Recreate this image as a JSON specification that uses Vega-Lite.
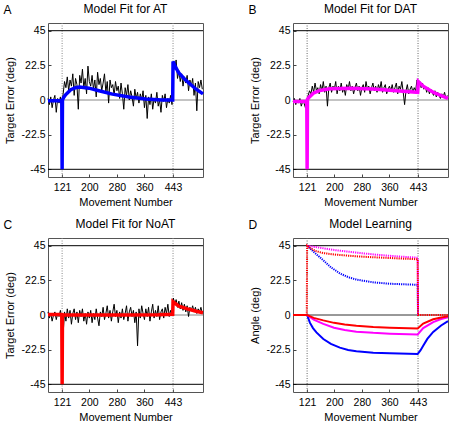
{
"$schema":"https://vega.github.io/schema/vega-lite/v6.json",
"padding":{"left":3,"top":2,"right":0,"bottom":0},
"config":{"view":{"stroke":"#555","strokeWidth":1},"font":"Liberation Sans",
 "axis":{"grid":false,"labelColor":"#000","titleColor":"#000","labelFont":"Liberation Sans","titleFont":"Liberation Sans","labelFontSize":10.5,"titleFontSize":11,"titleFontWeight":"normal","tickColor":"#444","domain":false,"labelOverlap":false,"labelFlush":false},
 "title":{"font":"Liberation Sans","fontSize":12,"fontWeight":"normal","color":"#000"}},
"datasets":{
"a_data":[{"m":80,"v":1},{"m":84,"v":-3},{"m":88,"v":2},{"m":92,"v":-5},{"m":96,"v":0},{"m":100,"v":3},{"m":104,"v":-8},{"m":108,"v":1},{"m":112,"v":-2},{"m":116,"v":2},{"m":120,"v":-4},{"m":124,"v":4},{"m":128,"v":12},{"m":132,"v":8},{"m":136,"v":15},{"m":140,"v":6},{"m":144,"v":13},{"m":148,"v":9},{"m":152,"v":17},{"m":156,"v":3},{"m":160,"v":14},{"m":164,"v":10},{"m":168,"v":-6},{"m":172,"v":16},{"m":176,"v":11},{"m":180,"v":20},{"m":184,"v":8},{"m":188,"v":14},{"m":192,"v":4},{"m":196,"v":22},{"m":200,"v":12},{"m":204,"v":9},{"m":208,"v":16},{"m":212,"v":7},{"m":216,"v":13},{"m":220,"v":2},{"m":224,"v":18},{"m":228,"v":10},{"m":232,"v":14},{"m":236,"v":6},{"m":240,"v":11},{"m":244,"v":17},{"m":248,"v":5},{"m":252,"v":12},{"m":256,"v":-2},{"m":260,"v":13},{"m":264,"v":8},{"m":268,"v":10},{"m":272,"v":3},{"m":276,"v":12},{"m":280,"v":6},{"m":284,"v":9},{"m":288,"v":1},{"m":292,"v":11},{"m":296,"v":4},{"m":300,"v":-6},{"m":304,"v":8},{"m":308,"v":3},{"m":312,"v":10},{"m":316,"v":0},{"m":320,"v":6},{"m":324,"v":2},{"m":328,"v":-4},{"m":332,"v":7},{"m":336,"v":1},{"m":340,"v":5},{"m":344,"v":-2},{"m":348,"v":4},{"m":352,"v":0},{"m":356,"v":6},{"m":360,"v":-5},{"m":364,"v":3},{"m":368,"v":-12},{"m":372,"v":2},{"m":376,"v":-3},{"m":380,"v":4},{"m":384,"v":-6},{"m":388,"v":1},{"m":392,"v":-2},{"m":396,"v":5},{"m":400,"v":-4},{"m":404,"v":0},{"m":408,"v":-8},{"m":412,"v":3},{"m":416,"v":-1},{"m":420,"v":4},{"m":424,"v":-5},{"m":428,"v":1},{"m":432,"v":-2},{"m":436,"v":3},{"m":440,"v":-3},{"m":444,"v":24},{"m":448,"v":20},{"m":452,"v":26},{"m":456,"v":14},{"m":460,"v":19},{"m":464,"v":12},{"m":468,"v":17},{"m":472,"v":9},{"m":476,"v":15},{"m":480,"v":11},{"m":484,"v":16},{"m":488,"v":6},{"m":492,"v":13},{"m":496,"v":9},{"m":500,"v":14},{"m":504,"v":3},{"m":508,"v":11},{"m":512,"v":-7},{"m":516,"v":12},{"m":520,"v":8},{"m":524,"v":13},{"m":528,"v":7}],
"a_model":[{"m":80,"v":-0.5},{"m":120,"v":-0.5},{"m":121,"v":-45},{"m":122,"v":0},{"m":125,"v":1.5},{"m":131,"v":3.4},{"m":146,"v":6.7},{"m":160,"v":8},{"m":172,"v":8.5},{"m":199,"v":7.7},{"m":228,"v":6},{"m":267,"v":3.8},{"m":315,"v":1.9},{"m":363,"v":0.6},{"m":411,"v":0},{"m":442,"v":0},{"m":443,"v":25},{"m":450,"v":21.5},{"m":460,"v":17.5},{"m":475,"v":14},{"m":489,"v":11},{"m":510,"v":7},{"m":530,"v":4}],
"b_data":[{"m":80,"v":-1},{"m":84,"v":1},{"m":88,"v":-3},{"m":92,"v":0},{"m":96,"v":-2},{"m":100,"v":1},{"m":104,"v":-4},{"m":108,"v":-1},{"m":112,"v":-2},{"m":116,"v":-5},{"m":120,"v":0},{"m":124,"v":3},{"m":128,"v":6},{"m":132,"v":4},{"m":136,"v":9},{"m":140,"v":5},{"m":144,"v":11},{"m":148,"v":6},{"m":152,"v":8},{"m":156,"v":4},{"m":160,"v":10},{"m":164,"v":6},{"m":168,"v":12},{"m":172,"v":5},{"m":176,"v":9},{"m":180,"v":-4},{"m":184,"v":8},{"m":188,"v":11},{"m":192,"v":5},{"m":196,"v":9},{"m":200,"v":7},{"m":204,"v":12},{"m":208,"v":4},{"m":212,"v":9},{"m":216,"v":6},{"m":220,"v":11},{"m":224,"v":5},{"m":228,"v":8},{"m":232,"v":3},{"m":236,"v":10},{"m":240,"v":7},{"m":244,"v":12},{"m":248,"v":6},{"m":252,"v":9},{"m":256,"v":4},{"m":260,"v":8},{"m":264,"v":11},{"m":268,"v":6},{"m":272,"v":9},{"m":276,"v":3},{"m":280,"v":8},{"m":284,"v":10},{"m":288,"v":5},{"m":292,"v":12},{"m":296,"v":7},{"m":300,"v":9},{"m":304,"v":4},{"m":308,"v":8},{"m":312,"v":11},{"m":316,"v":6},{"m":320,"v":9},{"m":324,"v":5},{"m":328,"v":10},{"m":332,"v":7},{"m":336,"v":12},{"m":340,"v":5},{"m":344,"v":8},{"m":348,"v":10},{"m":352,"v":4},{"m":356,"v":7},{"m":360,"v":9},{"m":364,"v":6},{"m":368,"v":10},{"m":372,"v":5},{"m":376,"v":8},{"m":380,"v":11},{"m":384,"v":4},{"m":388,"v":9},{"m":392,"v":7},{"m":396,"v":12},{"m":400,"v":5},{"m":404,"v":-3},{"m":408,"v":6},{"m":412,"v":10},{"m":416,"v":4},{"m":420,"v":7},{"m":424,"v":9},{"m":428,"v":5},{"m":432,"v":8},{"m":436,"v":6},{"m":440,"v":13},{"m":444,"v":10},{"m":448,"v":12},{"m":452,"v":8},{"m":456,"v":11},{"m":460,"v":7},{"m":464,"v":9},{"m":468,"v":5},{"m":472,"v":8},{"m":476,"v":4},{"m":480,"v":7},{"m":484,"v":5},{"m":488,"v":3},{"m":492,"v":6},{"m":496,"v":2},{"m":500,"v":5},{"m":504,"v":3},{"m":508,"v":1},{"m":512,"v":4},{"m":516,"v":2},{"m":520,"v":5},{"m":524,"v":1},{"m":528,"v":3}],
"b_model":[{"m":80,"v":-1},{"m":120,"v":-1},{"m":121,"v":-45},{"m":122,"v":0.5},{"m":124,"v":1.2},{"m":139,"v":4.4},{"m":158,"v":6.2},{"m":187,"v":7.3},{"m":245,"v":7.7},{"m":313,"v":7.1},{"m":380,"v":6},{"m":442,"v":5},{"m":444,"v":12},{"m":458,"v":9},{"m":487,"v":5},{"m":510,"v":2.8},{"m":530,"v":1}],
"c_data":[{"m":80,"v":2},{"m":84,"v":-2},{"m":88,"v":1},{"m":92,"v":-4},{"m":96,"v":0},{"m":100,"v":2},{"m":104,"v":-3},{"m":108,"v":1},{"m":112,"v":-1},{"m":116,"v":3},{"m":120,"v":-2},{"m":124,"v":-12},{"m":128,"v":2},{"m":132,"v":-4},{"m":136,"v":4},{"m":140,"v":-2},{"m":144,"v":3},{"m":148,"v":-6},{"m":152,"v":1},{"m":156,"v":4},{"m":160,"v":-3},{"m":164,"v":2},{"m":168,"v":-5},{"m":172,"v":3},{"m":176,"v":-1},{"m":180,"v":4},{"m":184,"v":-4},{"m":188,"v":1},{"m":192,"v":-6},{"m":196,"v":2},{"m":200,"v":-2},{"m":204,"v":3},{"m":208,"v":-5},{"m":212,"v":1},{"m":216,"v":-3},{"m":220,"v":4},{"m":224,"v":-2},{"m":228,"v":-7},{"m":232,"v":2},{"m":236,"v":-1},{"m":240,"v":5},{"m":244,"v":-3},{"m":248,"v":1},{"m":252,"v":6},{"m":256,"v":-2},{"m":260,"v":3},{"m":264,"v":-4},{"m":268,"v":2},{"m":272,"v":7},{"m":276,"v":-1},{"m":280,"v":3},{"m":284,"v":-5},{"m":288,"v":2},{"m":292,"v":-2},{"m":296,"v":4},{"m":300,"v":-3},{"m":304,"v":1},{"m":308,"v":6},{"m":312,"v":-4},{"m":316,"v":2},{"m":320,"v":5},{"m":324,"v":-1},{"m":328,"v":3},{"m":332,"v":-5},{"m":336,"v":2},{"m":340,"v":-20},{"m":344,"v":4},{"m":348,"v":-2},{"m":352,"v":6},{"m":356,"v":1},{"m":360,"v":-3},{"m":364,"v":4},{"m":368,"v":-1},{"m":372,"v":5},{"m":376,"v":-4},{"m":380,"v":2},{"m":384,"v":7},{"m":388,"v":-2},{"m":392,"v":3},{"m":396,"v":-1},{"m":400,"v":6},{"m":404,"v":-3},{"m":408,"v":2},{"m":412,"v":4},{"m":416,"v":-2},{"m":420,"v":5},{"m":424,"v":1},{"m":428,"v":7},{"m":432,"v":-1},{"m":436,"v":3},{"m":440,"v":0},{"m":444,"v":11},{"m":448,"v":7},{"m":452,"v":10},{"m":456,"v":5},{"m":460,"v":9},{"m":464,"v":4},{"m":468,"v":8},{"m":472,"v":3},{"m":476,"v":7},{"m":480,"v":2},{"m":484,"v":6},{"m":488,"v":-1},{"m":492,"v":5},{"m":496,"v":3},{"m":500,"v":6},{"m":504,"v":2},{"m":508,"v":5},{"m":512,"v":1},{"m":516,"v":4},{"m":520,"v":2},{"m":524,"v":5},{"m":528,"v":1}],
"c_model":[{"m":80,"v":0.3},{"m":120,"v":0.3},{"m":121,"v":-45},{"m":122,"v":0},{"m":200,"v":0},{"m":300,"v":0},{"m":400,"v":0.2},{"m":442,"v":0.5},{"m":443,"v":8.6},{"m":460,"v":5.8},{"m":489,"v":3.7},{"m":510,"v":2.4},{"m":530,"v":1.5}],
"d_bu":[{"m":121,"v":45},{"m":140,"v":41},{"m":168,"v":35.5},{"m":190,"v":31},{"m":216,"v":27},{"m":240,"v":24.6},{"m":264,"v":23},{"m":313,"v":21.2},{"m":361,"v":20.3},{"m":442,"v":19.6},{"m":443,"v":0}],
"d_mu":[{"m":121,"v":45},{"m":160,"v":43.6},{"m":200,"v":42.2},{"m":260,"v":40.6},{"m":320,"v":39.2},{"m":380,"v":38.1},{"m":442,"v":37.2},{"m":443,"v":0}],
"d_ru":[{"m":120,"v":0},{"m":121,"v":45},{"m":130,"v":43.4},{"m":145,"v":41.6},{"m":168,"v":40.2},{"m":199,"v":39.3},{"m":264,"v":38.1},{"m":313,"v":37.5},{"m":361,"v":37},{"m":400,"v":36.6},{"m":442,"v":36.2},{"m":443,"v":0},{"m":530,"v":0}],
"d_bl":[{"m":80,"v":0},{"m":121,"v":0},{"m":129,"v":-5},{"m":138,"v":-8.5},{"m":148,"v":-11.3},{"m":168,"v":-15.6},{"m":190,"v":-18.8},{"m":216,"v":-21.2},{"m":240,"v":-22.7},{"m":264,"v":-23.6},{"m":313,"v":-24.5},{"m":361,"v":-24.9},{"m":442,"v":-25.3},{"m":450,"v":-23},{"m":458,"v":-20},{"m":470,"v":-15.5},{"m":487,"v":-11},{"m":510,"v":-6.8},{"m":530,"v":-4}],
"d_ml":[{"m":80,"v":0},{"m":121,"v":0},{"m":140,"v":-3},{"m":168,"v":-5.8},{"m":199,"v":-8.3},{"m":230,"v":-9.8},{"m":264,"v":-10.8},{"m":313,"v":-11.6},{"m":361,"v":-12.1},{"m":442,"v":-12.6},{"m":458,"v":-8.5},{"m":487,"v":-4.6},{"m":510,"v":-2.6},{"m":530,"v":-1.5}],
"d_rl":[{"m":80,"v":0},{"m":121,"v":0},{"m":140,"v":-1.9},{"m":168,"v":-3.5},{"m":199,"v":-5.1},{"m":230,"v":-6.2},{"m":264,"v":-7},{"m":313,"v":-7.8},{"m":361,"v":-8.3},{"m":442,"v":-8.8},{"m":458,"v":-5.6},{"m":487,"v":-2.8},{"m":510,"v":-1.6},{"m":530,"v":-0.9}]
},
"spacing":9,
"vconcat":[
{"spacing":37,"hconcat":[
{"title":{"text":"A","anchor":"start","offset":-15},"vconcat":[
{"width":155,"height":154,"title":{"text":"Model Fit for AT","offset":7},
 "layer":[
  {"data":{"values":[{"m":121},{"m":443}]},"mark":{"type":"rule","strokeDash":[1,1.5],"color":"#888","strokeWidth":1},
   "encoding":{"x":{"field":"m","type":"quantitative","scale":{"domain":[80,530],"nice":false,"zero":false},"axis":{"values":[121,200,280,360,443],"tickCount":10,"tickSize":-3,"labelPadding":8,"title":"Movement Number","titlePadding":4}}}},
  {"data":{"values":[{"v":45},{"v":-45}]},"mark":{"type":"rule","color":"#000","strokeWidth":1},
   "encoding":{"y":{"field":"v","type":"quantitative","scale":{"domain":[-50,50],"nice":false,"zero":false},"axis":{"values":[-45,-22.5,0,22.5,45],"tickCount":10,"labelExpr":"'' + datum.value","tickSize":-3,"labelPadding":6,"title":"Target Error (deg)","titlePadding":6}}}},
  {"data":{"values":[{"v":0}]},"mark":{"type":"rule","color":"#888","strokeWidth":1},"encoding":{"y":{"field":"v","type":"quantitative"}}},
  {"data":{"name":"a_data"},"mark":{"type":"line","color":"#000","strokeWidth":1},"encoding":{"x":{"field":"m","type":"quantitative"},"y":{"field":"v","type":"quantitative"}}},
  {"data":{"name":"a_model"},"mark":{"type":"line","color":"#0000ff","strokeWidth":3.5},"encoding":{"x":{"field":"m","type":"quantitative"},"y":{"field":"v","type":"quantitative"}}}
 ]}]},
{"title":{"text":"B","anchor":"start","offset":-15},"vconcat":[
{"width":155,"height":154,"title":{"text":"Model Fit for DAT","offset":7},
 "layer":[
  {"data":{"values":[{"m":121},{"m":443}]},"mark":{"type":"rule","strokeDash":[1,1.5],"color":"#666","strokeWidth":1},
   "encoding":{"x":{"field":"m","type":"quantitative","scale":{"domain":[80,530],"nice":false,"zero":false},"axis":{"values":[121,200,280,360,443],"tickCount":10,"tickSize":-3,"labelPadding":8,"title":"Movement Number","titlePadding":4}}}},
  {"data":{"values":[{"v":45},{"v":-45}]},"mark":{"type":"rule","color":"#000","strokeWidth":1},
   "encoding":{"y":{"field":"v","type":"quantitative","scale":{"domain":[-50,50],"nice":false,"zero":false},"axis":{"values":[-45,-22.5,0,22.5,45],"tickCount":10,"labelExpr":"'' + datum.value","tickSize":-3,"labelPadding":6,"title":"Target Error (deg)","titlePadding":6}}}},
  {"data":{"values":[{"v":0}]},"mark":{"type":"rule","color":"#888","strokeWidth":1},"encoding":{"y":{"field":"v","type":"quantitative"}}},
  {"data":{"name":"b_data"},"mark":{"type":"line","color":"#000","strokeWidth":1},"encoding":{"x":{"field":"m","type":"quantitative"},"y":{"field":"v","type":"quantitative"}}},
  {"data":{"name":"b_model"},"mark":{"type":"line","color":"#ff00ff","strokeWidth":3.5},"encoding":{"x":{"field":"m","type":"quantitative"},"y":{"field":"v","type":"quantitative"}}}
 ]}]}
]},
{"spacing":37,"hconcat":[
{"title":{"text":"C","anchor":"start","offset":-15},"vconcat":[
{"width":155,"height":154,"title":{"text":"Model Fit for NoAT","offset":7},
 "layer":[
  {"data":{"values":[{"m":121},{"m":443}]},"mark":{"type":"rule","strokeDash":[1,1.5],"color":"#888","strokeWidth":1},
   "encoding":{"x":{"field":"m","type":"quantitative","scale":{"domain":[80,530],"nice":false,"zero":false},"axis":{"values":[121,200,280,360,443],"tickCount":10,"tickSize":-3,"labelPadding":8,"title":"Movement Number","titlePadding":4}}}},
  {"data":{"values":[{"v":45},{"v":-45}]},"mark":{"type":"rule","color":"#000","strokeWidth":1},
   "encoding":{"y":{"field":"v","type":"quantitative","scale":{"domain":[-50,50],"nice":false,"zero":false},"axis":{"values":[-45,-22.5,0,22.5,45],"tickCount":10,"labelExpr":"'' + datum.value","tickSize":-3,"labelPadding":6,"title":"Target Error (deg)","titlePadding":6}}}},
  {"data":{"values":[{"v":0}]},"mark":{"type":"rule","color":"#888","strokeWidth":1},"encoding":{"y":{"field":"v","type":"quantitative"}}},
  {"data":{"name":"c_data"},"mark":{"type":"line","color":"#000","strokeWidth":1},"encoding":{"x":{"field":"m","type":"quantitative"},"y":{"field":"v","type":"quantitative"}}},
  {"data":{"name":"c_model"},"mark":{"type":"line","color":"#ff0000","strokeWidth":3.5},"encoding":{"x":{"field":"m","type":"quantitative"},"y":{"field":"v","type":"quantitative"}}}
 ]}]},
{"title":{"text":"D","anchor":"start","offset":-15},"vconcat":[
{"width":155,"height":154,"title":{"text":"Model Learning","offset":7},
 "layer":[
  {"data":{"values":[{"m":121},{"m":443}]},"mark":{"type":"rule","strokeDash":[1,1.5],"color":"#666","strokeWidth":1},
   "encoding":{"x":{"field":"m","type":"quantitative","scale":{"domain":[80,530],"nice":false,"zero":false},"axis":{"values":[121,200,280,360,443],"tickCount":10,"tickSize":-3,"labelPadding":8,"title":"Movement Number","titlePadding":4}}}},
  {"data":{"values":[{"v":45},{"v":-45}]},"mark":{"type":"rule","color":"#000","strokeWidth":1},
   "encoding":{"y":{"field":"v","type":"quantitative","scale":{"domain":[-50,50],"nice":false,"zero":false},"axis":{"values":[-45,-22.5,0,22.5,45],"tickCount":10,"labelExpr":"'' + datum.value","tickSize":-3,"labelPadding":6,"title":"Angle (deg)","titlePadding":6}}}},
  {"data":{"values":[{"v":0}]},"mark":{"type":"rule","color":"#333","strokeWidth":1},"encoding":{"y":{"field":"v","type":"quantitative"}}},
  {"data":{"name":"d_bu"},"mark":{"type":"line","color":"#0000ff","strokeWidth":2,"strokeDash":[1.2,1]},"encoding":{"x":{"field":"m","type":"quantitative"},"y":{"field":"v","type":"quantitative"}}},
  {"data":{"name":"d_mu"},"mark":{"type":"line","color":"#ff00ff","strokeWidth":2,"strokeDash":[1.2,1]},"encoding":{"x":{"field":"m","type":"quantitative"},"y":{"field":"v","type":"quantitative"}}},
  {"data":{"name":"d_ru"},"mark":{"type":"line","color":"#ff0000","strokeWidth":2,"strokeDash":[1.2,1]},"encoding":{"x":{"field":"m","type":"quantitative"},"y":{"field":"v","type":"quantitative"}}},
  {"data":{"name":"d_bl"},"mark":{"type":"line","color":"#0000ff","strokeWidth":2},"encoding":{"x":{"field":"m","type":"quantitative"},"y":{"field":"v","type":"quantitative"}}},
  {"data":{"name":"d_ml"},"mark":{"type":"line","color":"#ff00ff","strokeWidth":2},"encoding":{"x":{"field":"m","type":"quantitative"},"y":{"field":"v","type":"quantitative"}}},
  {"data":{"name":"d_rl"},"mark":{"type":"line","color":"#ff0000","strokeWidth":2},"encoding":{"x":{"field":"m","type":"quantitative"},"y":{"field":"v","type":"quantitative"}}}
 ]}]}
]}
]
}
